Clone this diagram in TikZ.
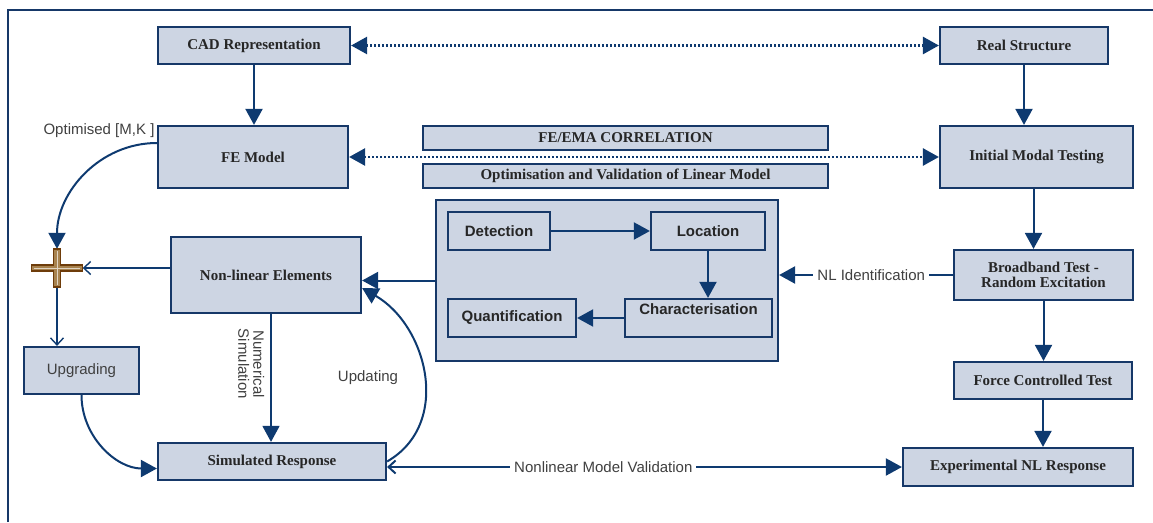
\documentclass[tikz,border=0pt]{standalone}
\usepackage{fontspec}
\setmainfont{Liberation Serif}
\setsansfont{Liberation Sans}
\usepackage{tikz}
\usetikzlibrary{arrows.meta, positioning, calc}
\definecolor{boxfill}{HTML}{CDD5E3}
\definecolor{navy}{HTML}{163868}
\definecolor{arrowblue}{HTML}{0E3A70}
\definecolor{plusfill}{HTML}{A8834F}
\definecolor{plusdraw}{HTML}{6E3C0A}
\definecolor{lbltext}{HTML}{404040}

\begin{document}
\begin{tikzpicture}[x=1pt, y=-1pt,
    >={Triangle[length=16pt,width=17pt]},
    blk/.style={draw=navy, line width=2.2pt, fill=boxfill, text=black!85, align=center, inner sep=2pt,
      font=\fontsize{15}{15.5}\selectfont\bfseries},
    sblk/.style={blk, font=\fontsize{15}{17}\selectfont\sffamily\bfseries},
    ublk/.style={blk, text=lbltext, font=\fontsize{15}{17}\selectfont\sffamily},
    lbl/.style={text=lbltext, font=\fontsize{15}{17}\selectfont\sffamily, inner sep=1pt},
    arr/.style={->, draw=arrowblue, line width=2pt},
    thinarr/.style={-{Straight Barb[length=7pt,width=13pt]}, draw=arrowblue, line width=1.4pt},
    dotarr/.style={<->, draw=arrowblue, line width=2.6pt, dash pattern=on 2pt off 2pt}]
  \useasboundingbox (0,0) rectangle (1153,522);
  \draw[navy, line width=2pt] (8,522) -- (8,10) -- (1153,10);

  \node[blk, minimum width=192pt, minimum height=37pt] (cad) at (254,45.5) {CAD Representation};
  \node[blk, minimum width=168pt, minimum height=37pt] (rs) at (1024,45.5) {Real Structure};
  \node[blk, minimum width=190pt, minimum height=62pt] (fe) at (253,157) {FE Model};
  \node[blk, minimum width=193pt, minimum height=62pt] (imt) at (1036.5,157) {Initial Modal Testing};
  \node[blk, minimum width=405pt, minimum height=24pt] (corr) at (625.5,138) {FE/EMA CORRELATION};
  \node[blk, minimum width=405pt, minimum height=24pt] (optim) at (625.5,176) {Optimisation and Validation of Linear Model};
  \node[blk, minimum width=342pt, minimum height=161pt] (nlbox) at (607,280.5) {};
  \node[sblk, minimum width=102pt, minimum height=38pt] (det) at (499,231) {Detection};
  \node[sblk, minimum width=114pt, minimum height=38pt] (loc) at (708,231) {Location};
  \node[sblk, minimum width=147pt, minimum height=38pt] (chr) at (698.5,318) {Characterisation\\\mbox{}};
  \node[sblk, minimum width=128pt, minimum height=38pt] (qnt) at (512,318) {Quantification};
  \node[blk, minimum width=190pt, minimum height=76pt] (nle) at (266,275) {Non-linear Elements};
  \node[blk, minimum width=179pt, minimum height=50pt] (bbt) at (1043.5,275) {Broadband Test -\\Random Excitation};
  \node[blk, minimum width=178pt, minimum height=37pt] (fct) at (1043,380.5) {Force Controlled Test};
  \node[blk, minimum width=230pt, minimum height=38pt] (exp) at (1018,467) {Experimental NL Response};
  \node[blk, minimum width=228pt, minimum height=37pt] (sim) at (272,461.5) {Simulated Response};
  \node[ublk, minimum width=115pt, minimum height=47pt] (upg) at (81.5,370.5) {Upgrading};
  \node[minimum width=51pt, minimum height=38pt, inner sep=0pt] (sum) at (57,268) {};

  \node[lbl] (optlbl) at (99,131) {Optimised [M,K ]};
  \node[lbl] (upd) at (368,378) {Updating};

  \draw[dotarr] (cad.east) -- (rs.west);
  \draw[dotarr] (fe.east) -- (imt.west);
  \draw[arr] (cad.south) -- (cad.south |- fe.north);
  \draw[arr] (rs.south) -- (rs.south |- imt.north);
  \draw[arr] ([xshift=-3pt]imt.south) -- ([xshift=-3pt]imt.south |- bbt.north);
  \draw[arr] (bbt.south) -- (bbt.south |- fct.north);
  \draw[arr] (fct.south) -- (fct.south |- exp.north);
  \draw[arr, line width=2.4pt] (bbt.west) -- (bbt.west -| nlbox.east)
    node[lbl, pos=.47, fill=white, inner sep=4pt] {NL Identification};
  \draw[arr] (nlbox.west) -- (nlbox.west -| nle.east);
  \draw[arr] (det.east) -- (loc.west);
  \draw[arr] (loc.south) -- (loc.south |- chr.north);
  \draw[arr] (chr.west) -- (qnt.east);
  \draw[arr] ([yshift=14pt]fe.west) to[out=180, in=90] (sum.north);
  \draw[thinarr] (nle.west |- sum.east) -- (sum.east);
  \draw[thinarr] (sum.south) -- (sum.south |- upg.north);
  \draw[arr] (upg.south) to[out=-90, in=180] ([yshift=-7pt]sim.west);
  \draw[arr, line width=1.4pt] ([xshift=5pt]nle.south) -- ([xshift=5pt]nle.south |- sim.north)
    node[lbl, pos=.39, rotate=-90, anchor=north, align=center, inner sep=6pt,
      font=\fontsize{15}{15}\selectfont\sffamily] {Numerical\\Simulation};
  \draw[arr] (sim.east) to[out=30, in=-30, looseness=1.1] ([yshift=-13pt]nle.east);
  \draw[{Straight Barb[length=7pt,width=13pt]}->, draw=arrowblue, line width=2pt] (sim.east |- exp.west) -- (exp.west)
    node[lbl, pos=.42, fill=white, inner sep=4pt] {Nonlinear Model Validation};

  \begin{scope}[shift={(sum.center)}]
    \draw[draw=plusdraw, fill=plusfill, line width=1.6pt, line join=miter]
      (-25.5,-3) -- (-3.5,-3) -- (-3.5,-19) -- (3.5,-19) -- (3.5,-3) -- (25.5,-3) -- (25.5,3)
      -- (3.5,3) -- (3.5,19) -- (-3.5,19) -- (-3.5,3) -- (-25.5,3) -- cycle;
    \draw[plusfill!35!white, line width=0.6pt] (-23,0) -- (23,0) (0,-17) -- (0,17);
  \end{scope}
\end{tikzpicture}
\end{document}
